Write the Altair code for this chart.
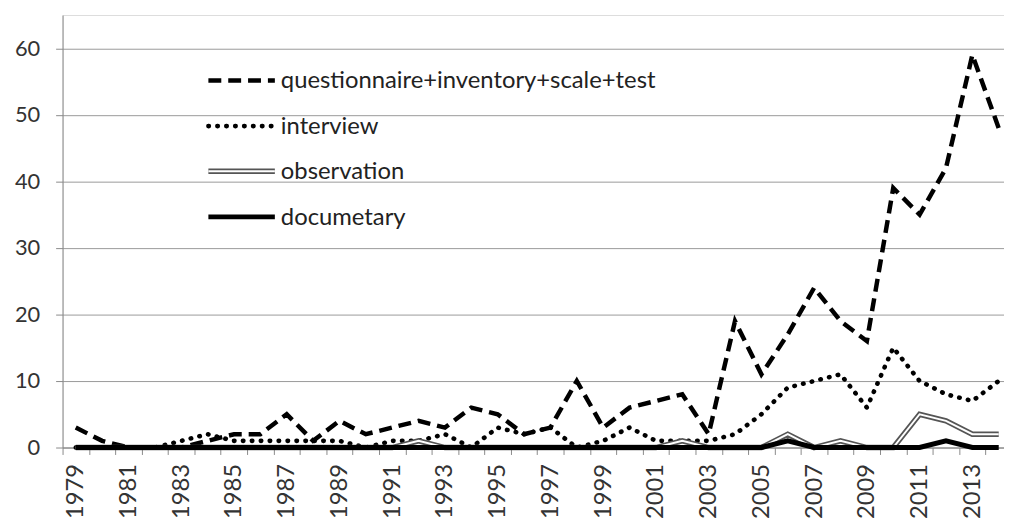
import altair as alt
import pandas as pd

years = list(range(1979, 2015))
questionnaire = [3, 1, 0, 0, 0, 1, 2, 2, 5, 1, 4, 2, 3, 4, 3, 6, 5, 2, 3, 10,
                 3, 6, 7, 8, 2, 19, 11, 17, 24, 19, 16, 39, 35, 42, 59, 48]
interview = [0, 0, 0, 0, 1, 2, 1, 1, 1, 1, 1, 0, 1, 1, 2, 0, 3, 2, 3, 0,
             1, 3, 1, 1, 1, 2, 5, 9, 10, 11, 6, 15, 10, 8, 7, 10]
observation = [0, 0, 0, 0, 0, 0, 0, 0, 0, 0, 0, 0, 0, 1, 0, 0, 0, 0, 0, 0,
               0, 0, 0, 1, 0, 0, 0, 2, 0, 1, 0, 0, 5, 4, 2, 2]
documetary = [0, 0, 0, 0, 0, 0, 0, 0, 0, 0, 0, 0, 0, 0, 0, 0, 0, 0, 0, 0,
              0, 0, 0, 0, 0, 0, 0, 1, 0, 0, 0, 0, 0, 1, 0, 0]
names = ["questionnaire+inventory+scale+test", "interview", "observation", "documetary"]
y_ticks = [0, 10, 20, 30, 40, 50, 60]

FONT = "Lato"
GRAY = "#8a8a8a"

def frame(vals):
    return pd.DataFrame({"year": years, "v": vals})

boundaries = [y - 0.5 for y in years]

x_enc = alt.X(
    "year:Q",
    scale=alt.Scale(domain=[1978.5, 2014.2], nice=False, zero=False),
    axis=alt.Axis(
        values=boundaries, grid=False, title=None,
        domainColor=GRAY, tickColor=GRAY, tickSize=7, tickWidth=1,
        labelAngle=-90, labelAlign="right", labelBaseline="middle",
        labelOffset=13.29, labelPadding=9,
        labelExpr="(datum.value + 0.5 - 1979) % 2 == 0 ? toString(datum.value + 0.5) : ''",
        labelOverlap=False, labelFlush=False,
        labelFont=FONT, labelFontSize=24, labelColor="#333333",
    ),
)
y_enc = alt.Y(
    "v:Q",
    scale=alt.Scale(domain=[0, 65], nice=False),
    axis=alt.Axis(
        values=y_ticks, grid=True, gridColor="#9a9a9a", gridWidth=1, title=None,
        domainColor=GRAY, tickColor=GRAY, tickSize=7,
        labelPadding=16, labelFont=FONT, labelFontSize=22, labelColor="#333333",
    ),
)

q_line = alt.Chart(frame(questionnaire)).mark_line(
    color="black", strokeWidth=4.5, strokeDash=[13, 7]
).encode(x=x_enc, y=y_enc)
i_line = alt.Chart(frame(interview)).mark_line(
    color="black", strokeWidth=4.6, strokeDash=[0.5, 8.5], strokeCap="round"
).encode(x=x_enc, y=y_enc)
o_outer = alt.Chart(frame(observation)).mark_line(
    color="#555555", strokeWidth=5.5
).encode(x=x_enc, y=y_enc)
o_inner = alt.Chart(frame(observation)).mark_line(
    color="white", strokeWidth=2
).encode(x=x_enc, y=y_enc)
d_line = alt.Chart(frame(documetary)).mark_line(
    color="black", strokeWidth=5
).encode(x=x_enc, y=y_enc)

# legend (layout only)
rows = [66, 112, 157.5, 203.5]
sx0, sx1, tx = 147, 214, 220
leg = []
styles = [
    [dict(color="black", strokeWidth=4.5, strokeDash=[13, 7])],
    [dict(color="black", strokeWidth=4.6, strokeDash=[0.5, 8.5], strokeCap="round")],
    [dict(color="#555555", strokeWidth=5.5), dict(color="white", strokeWidth=2)],
    [dict(color="black", strokeWidth=5)],
]
for name, ry, sty in zip(names, rows, styles):
    d = pd.DataFrame({"series": [name]})
    for s in sty:
        leg.append(alt.Chart(d).mark_rule(**s).encode(
            x=alt.value(sx0), x2=alt.value(sx1), y=alt.value(ry)))
    leg.append(alt.Chart(d).mark_text(
        align="left", baseline="middle", font=FONT, fontSize=24, color="#222222"
    ).encode(x=alt.value(tx), y=alt.value(ry + 1), text="series:N"))

chart = alt.layer(q_line, i_line, o_outer, o_inner, d_line, *leg).properties(
    width=949, height=436,
    autosize=alt.AutoSizeParams(type="none"),
    padding={"left": 55, "top": 5, "right": 0, "bottom": 70},
).configure_view(stroke=None).configure(background="white")

chart.save("out.html", embed_options={"renderer": "svg", "actions": False})
